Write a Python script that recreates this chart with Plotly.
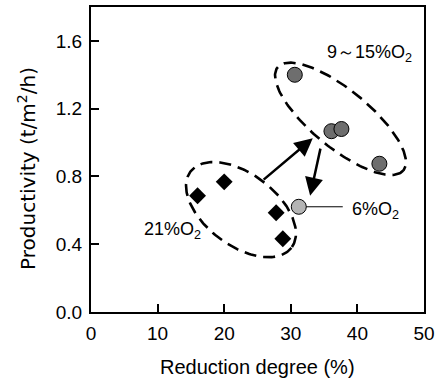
import numpy as np
import plotly.graph_objects as go

# ---- data ----
o21_x = [16.0, 20.0, 27.8, 28.8]
o21_y = [0.686, 0.768, 0.586, 0.432]
o915_x = [30.6, 36.1, 37.6, 43.3]
o915_y = [1.40, 1.067, 1.08, 0.875]
o6_x = [31.2]
o6_y = [0.621]

x_ticks = [0, 10, 20, 30, 40, 50]
y_ticks = [0.0, 0.4, 0.8, 1.2, 1.6]
y_tick_labels = ["0.0", "0.4", "0.8", "1.2", "1.6"]

W, H = 442, 383
ML, MR, MT, MB = 91, 18, 5, 71
XR = [0, 50]
YR = [0, 1.8]
SX = (W - ML - MR) / (XR[1] - XR[0])
SY = (H - MT - MB) / (YR[1] - YR[0])

FONT = "Liberation Sans, Arial, sans-serif"
FONT_W = "DejaVu Sans, Liberation Sans, sans-serif"


def ellipse(cx, cy, a_px, b_px, phi_deg, n=200):
    t = np.linspace(0, 2 * np.pi, n)
    phi = np.radians(phi_deg)
    dx = a_px * np.cos(t) * np.cos(phi) - b_px * np.sin(t) * np.sin(phi)
    dy = a_px * np.cos(t) * np.sin(phi) + b_px * np.sin(t) * np.cos(phi)
    return cx + dx / SX, cy - dy / SY


fig = go.Figure()

# dashed group ellipses
for (cx, cy, a, b, phi) in [(37.46, 1.140, 81.5, 29.0, 39.6), (22.52, 0.604, 63.4, 36.0, 37.3)]:
    ex, ey = ellipse(cx, cy, a, b, phi)
    fig.add_trace(go.Scatter(x=ex, y=ey, mode="lines",
                             line=dict(color="black", width=2.6, dash="12px,7px"),
                             hoverinfo="skip", showlegend=False))

# connector line for 6% label
fig.add_trace(go.Scatter(x=[o6_x[0], 37.8], y=[o6_y[0], o6_y[0]], mode="lines",
                         line=dict(color="black", width=1), showlegend=False, hoverinfo="skip"))

fig.add_trace(go.Scatter(x=o21_x, y=o21_y, mode="markers", name="21%O2",
                         marker=dict(symbol="diamond", size=13, color="black"),
                         showlegend=False))
fig.add_trace(go.Scatter(x=o915_x, y=o915_y, mode="markers", name="9~15%O2",
                         marker=dict(symbol="circle", size=15, color="#6e6e6e",
                                     line=dict(color="black", width=1)),
                         showlegend=False))
fig.add_trace(go.Scatter(x=o6_x, y=o6_y, mode="markers", name="6%O2",
                         marker=dict(symbol="circle", size=15, color="#b4b4b4",
                                     line=dict(color="black", width=1)),
                         showlegend=False))

# arrows
for (tx, ty, hx, hy) in [(25.7, 0.774, 33.3, 1.026), (34.5, 0.973, 32.9, 0.686)]:
    fig.add_annotation(x=hx, y=hy, ax=tx, ay=ty, xref="x", yref="y", axref="x", ayref="y",
                       text="", showarrow=True, arrowhead=2, arrowsize=1.45,
                       arrowwidth=2.5, arrowcolor="black")

# labels
fig.add_annotation(x=35.1, y=1.524, xref="x", yref="y", text="9～15%O<sub>2</sub>",
                   showarrow=False, xanchor="left", yanchor="middle",
                   font=dict(family=FONT, size=18, color="black"))
fig.add_annotation(x=38.9, y=0.598, xref="x", yref="y", text="6%O<sub>2</sub>",
                   showarrow=False, xanchor="left", yanchor="middle",
                   font=dict(family=FONT, size=18, color="black"))
fig.add_annotation(x=7.66, y=0.48, xref="x", yref="y", text="21%O<sub>2</sub>",
                   showarrow=False, xanchor="left", yanchor="middle",
                   font=dict(family=FONT, size=18, color="black"))

# axis titles as annotations
fig.add_annotation(x=0.5, y=0, xref="paper", yref="paper", yshift=-55,
                   text="Reduction degree (%)", showarrow=False, xanchor="center", yanchor="middle",
                   font=dict(family=FONT, size=20, color="black"))
fig.add_annotation(x=0, y=(H - MB - 168) / (H - MT - MB), xref="paper", yref="paper", xshift=-64,
                   text="Productivity (t/m<sup>2</sup>/h)", textangle=-90, showarrow=False,
                   xanchor="center", yanchor="middle",
                   font=dict(family=FONT_W, size=20, color="black"))

fig.update_layout(
    width=W, height=H,
    margin=dict(l=ML, r=MR, t=MT, b=MB),
    paper_bgcolor="white", plot_bgcolor="white",
    font=dict(family=FONT, size=18, color="black"),
    showlegend=False,
)
fig.update_xaxes(range=XR, tickvals=x_ticks, ticks="inside", ticklen=8, tickwidth=2,
                 tickcolor="black", showline=True, linewidth=2, linecolor="black",
                 mirror=True, showgrid=False, zeroline=False, ticklabelstandoff=3,
                 tickfont=dict(family=FONT, size=19, color="black"))
fig.update_yaxes(range=YR, tickvals=y_ticks, ticktext=y_tick_labels, ticks="inside",
                 ticklen=8, tickwidth=2, tickcolor="black", showline=True, linewidth=2,
                 linecolor="black", mirror=True, showgrid=False, zeroline=False,
                 ticklabelstandoff=3,
                 tickfont=dict(family=FONT, size=19, color="black"))

fig.write_html("out.html")
